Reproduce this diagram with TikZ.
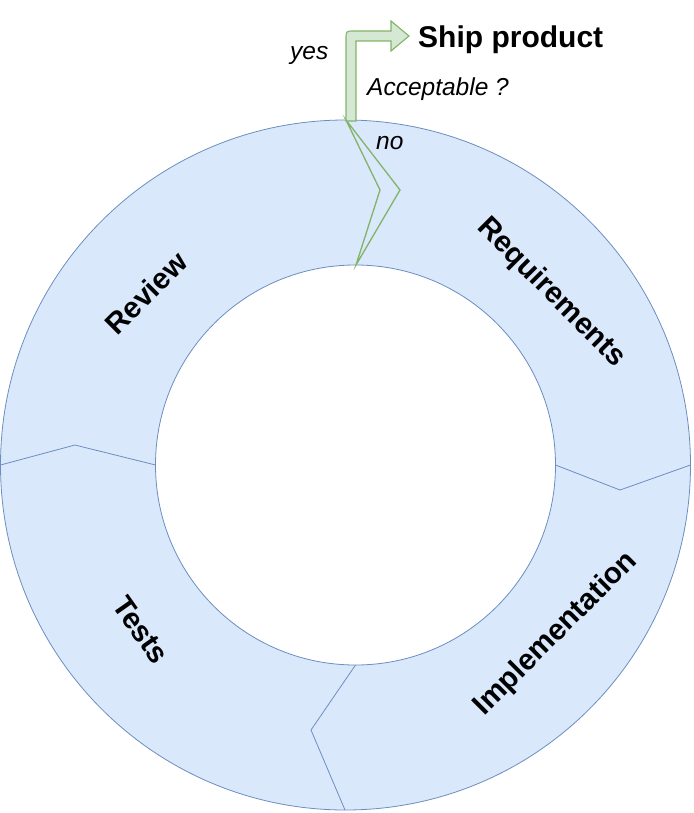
\documentclass[tikz,border=0pt]{standalone}
\usepackage{fontspec}
\setmainfont{Liberation Sans}
\usetikzlibrary{positioning}
\definecolor{Bf}{HTML}{DAE8FC}
\definecolor{Bd}{HTML}{6C8EBF}
\definecolor{Gf}{HTML}{D5E8D4}
\definecolor{Gd}{HTML}{82B366}
\tikzset{
  ring/.style={fill=Bf, draw=Bd, line width=0.8pt, even odd rule},
  cut/.style={draw=Bd, line width=0.8pt},
  gocut/.style={draw=Gd, line width=1.3pt, line join=miter},
  shipArr/.style={fill=Gf, draw=Gd, line width=1.1pt},
  stage/.style={inner sep=0pt, font=\fontsize{29.5}{34}\selectfont\bfseries},
  ask/.style={inner sep=0pt, anchor=base west, font=\fontsize{24.5}{28}\selectfont\itshape},
  goal/.style={inner sep=0pt, anchor=base west, font=\fontsize{30}{36}\selectfont\bfseries},
}
\newcommand{\ringpath}{(345.5,465) circle[radius=345pt] (355.5,465) circle[radius=200pt]}
\begin{document}
\begin{tikzpicture}[x=1pt, y=-1pt]
  \useasboundingbox (0,0) rectangle (693,813);
  % ring and the four stage borders
  \path[ring] \ringpath;
  \draw[cut] (0.5,465) -- (75,445) -- (155.5,465);
  \draw[cut] (690.5,465) -- (620,490) -- (555.5,465);
  \draw[cut] (355.5,665) -- (311,730) -- (345,810);
  \draw[gocut] (346,120) -- (400,190) -- (356,265) -- (380,190) -- cycle;
  % exit arrow
  \draw[shipArr] (346,121) -- (346,39) .. controls (346,31) .. (354,31) -- (391,31)
    -- (391,21) -- (409,36) -- (391,51) -- (391,41) -- (356,41) -- (356,121) -- cycle;
  % texts
  \node[goal] (ship) at (418,48) {Ship product};
  \node[ask] (accept) at (367,96) {Acceptable ?};
  \node[ask] (yes) at (290,60) {yes};
  \node[ask] (no) at (376,150) {no};
  \node[stage, rotate=-45] (req) at (551,293) {Requirements};
  \node[stage, rotate=45] (impl) at (556,634) {Implementation};
  \node[stage, rotate=-55] (tests) at (141,630) {Tests};
  \node[stage, rotate=45] (review) at (146,293) {Review};
\end{tikzpicture}
\end{document}
